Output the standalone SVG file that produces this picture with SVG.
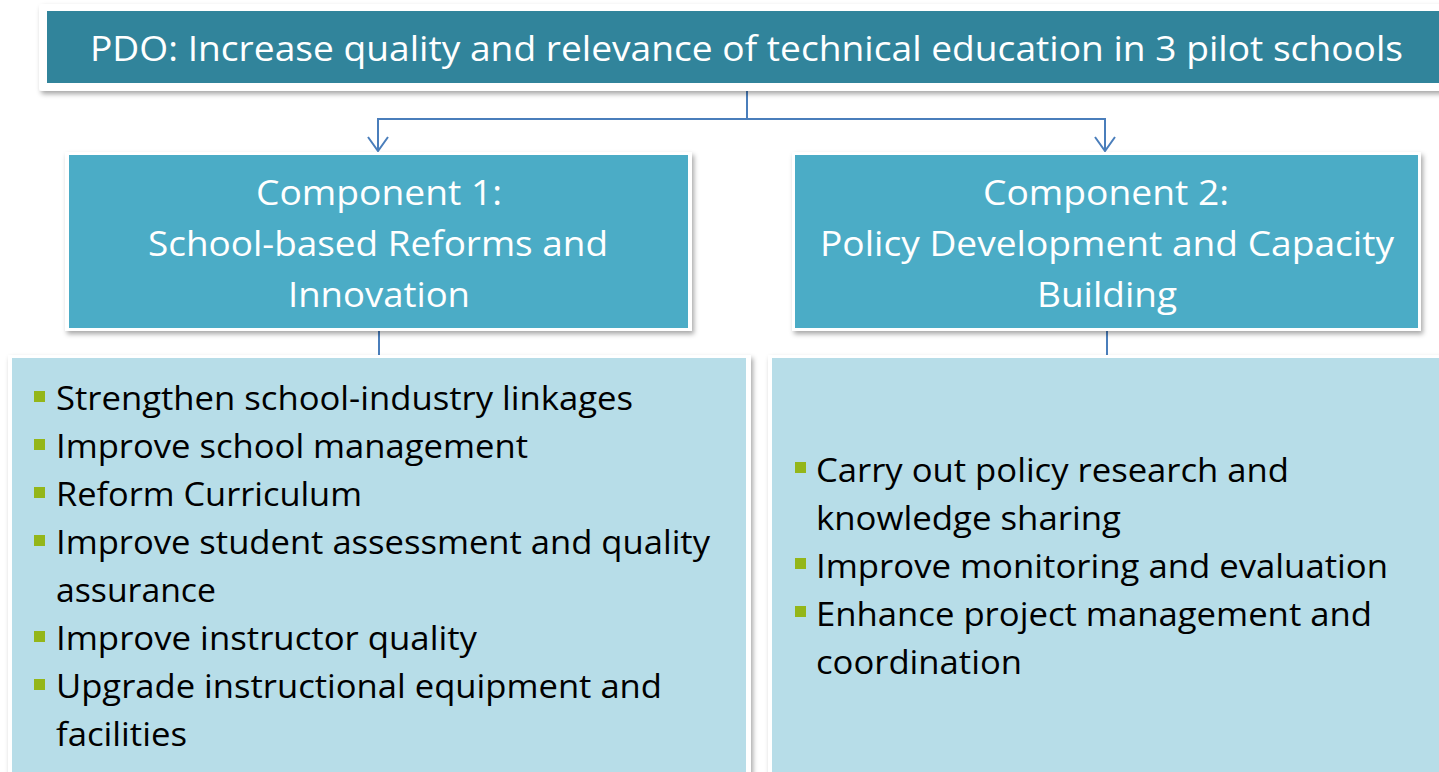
<svg xmlns="http://www.w3.org/2000/svg" width="1439" height="772" viewBox="0 0 1439 772">
  <defs>
    <filter id="shadow" x="-5%" y="-10%" width="110%" height="125%">
      <feDropShadow dx="2" dy="3" stdDeviation="2.5" flood-color="#000" flood-opacity="0.35"/>
    </filter>
    <!-- open V arrowhead, tip on the line end -->
    <marker id="arrow" markerWidth="20" markerHeight="24" refX="17" refY="11" orient="auto" markerUnits="userSpaceOnUse" viewBox="0 0 20 22">
      <path d="M3 1 L17 11 L3 21" fill="none" stroke="#4A7EBB" stroke-width="2"/>
    </marker>
    <style>
      .frame { fill: #ffffff; filter: url(#shadow); }
      .pdo { fill: #31849B; }
      .comp { fill: #4BACC6; }
      .panel { fill: #B7DDE8; }
      .t-white { fill: #ffffff; font-family: "Open Sans", "Noto Sans", sans-serif; }
      .t-body { fill: #000000; font-family: "Open Sans", "Noto Sans", sans-serif; font-size: 33px; }
      .bullet { fill: #94B619; }
      .conn { fill: none; stroke: #4A7EBB; stroke-width: 2; }
    </style>
  </defs>

  <rect width="1439" height="772" fill="#ffffff"/>

  <!-- connectors -->
  <g id="connectors">
    <path class="conn" d="M747 83 V119 H378 V151" marker-end="url(#arrow)"/>
    <path class="conn" d="M747 119 H1105 V151" marker-end="url(#arrow)"/>
    <line class="conn" x1="379" y1="331" x2="379" y2="358" stroke-width="1.5"/>
    <line class="conn" x1="1107" y1="331" x2="1107" y2="358" stroke-width="1.5"/>
  </g>

  <!-- project development objective -->
  <g id="pdo">
    <rect class="frame" x="39" y="4" width="1420" height="87" rx="3"/>
    <rect class="pdo" x="47" y="11" width="1400" height="72"/>
    <text class="t-white" x="90" y="61" font-size="35" textLength="1313" lengthAdjust="spacingAndGlyphs">PDO: Increase quality and relevance of technical education in 3 pilot schools</text>
  </g>

  <!-- component 1 -->
  <g id="component1">
    <rect class="frame" x="65" y="152" width="627" height="179"/>
    <rect class="comp" x="69" y="155" width="619" height="173"/>
    <text class="t-white" font-size="35">
      <tspan x="256" y="205" textLength="246" lengthAdjust="spacingAndGlyphs">Component 1:</tspan>
      <tspan x="148" y="256" textLength="460" lengthAdjust="spacingAndGlyphs">School-based Reforms and</tspan>
      <tspan x="288" y="307" textLength="182" lengthAdjust="spacingAndGlyphs">Innovation</tspan>
    </text>
  </g>

  <!-- component 2 -->
  <g id="component2">
    <rect class="frame" x="792" y="152" width="629" height="179"/>
    <rect class="comp" x="795" y="155" width="623" height="173"/>
    <text class="t-white" font-size="35">
      <tspan x="983" y="205" textLength="246" lengthAdjust="spacingAndGlyphs">Component 2:</tspan>
      <tspan x="820" y="256" textLength="574" lengthAdjust="spacingAndGlyphs">Policy Development and Capacity</tspan>
      <tspan x="1037" y="307" textLength="140" lengthAdjust="spacingAndGlyphs">Building</tspan>
    </text>
  </g>

  <!-- activities of component 1 -->
  <g id="activities1">
    <rect class="frame" x="8" y="355" width="743" height="430"/>
    <rect class="panel" x="12" y="358" width="734" height="420"/>
    <rect class="bullet" x="34" y="391" width="11" height="11"/>
    <rect class="bullet" x="34" y="439" width="11" height="11"/>
    <rect class="bullet" x="34" y="487" width="11" height="11"/>
    <rect class="bullet" x="34" y="535" width="11" height="11"/>
    <rect class="bullet" x="34" y="631" width="11" height="11"/>
    <rect class="bullet" x="34" y="679" width="11" height="11"/>
    <text class="t-body">
      <tspan x="56" y="410" textLength="577" lengthAdjust="spacingAndGlyphs">Strengthen school-industry linkages</tspan>
      <tspan x="56" y="458" textLength="472" lengthAdjust="spacingAndGlyphs">Improve school management</tspan>
      <tspan x="56" y="506" textLength="306" lengthAdjust="spacingAndGlyphs">Reform Curriculum</tspan>
      <tspan x="56" y="554" textLength="654" lengthAdjust="spacingAndGlyphs">Improve student assessment and quality</tspan>
      <tspan x="56" y="602" textLength="160" lengthAdjust="spacingAndGlyphs">assurance</tspan>
      <tspan x="56" y="650" textLength="421" lengthAdjust="spacingAndGlyphs">Improve instructor quality</tspan>
      <tspan x="56" y="698" textLength="606" lengthAdjust="spacingAndGlyphs">Upgrade instructional equipment and</tspan>
      <tspan x="56" y="746" textLength="131" lengthAdjust="spacingAndGlyphs">facilities</tspan>
    </text>
  </g>

  <!-- activities of component 2 -->
  <g id="activities2">
    <rect class="frame" x="768" y="355" width="690" height="430"/>
    <rect class="panel" x="772" y="358" width="680" height="420"/>
    <rect class="bullet" x="795" y="462" width="11" height="11"/>
    <rect class="bullet" x="795" y="558" width="11" height="11"/>
    <rect class="bullet" x="795" y="606" width="11" height="11"/>
    <text class="t-body">
      <tspan x="816" y="482" textLength="473" lengthAdjust="spacingAndGlyphs">Carry out policy research and</tspan>
      <tspan x="816" y="530" textLength="305" lengthAdjust="spacingAndGlyphs">knowledge sharing</tspan>
      <tspan x="816" y="578" textLength="572" lengthAdjust="spacingAndGlyphs">Improve monitoring and evaluation</tspan>
      <tspan x="816" y="626" textLength="556" lengthAdjust="spacingAndGlyphs">Enhance project management and</tspan>
      <tspan x="816" y="674" textLength="206" lengthAdjust="spacingAndGlyphs">coordination</tspan>
    </text>
  </g>
</svg>
